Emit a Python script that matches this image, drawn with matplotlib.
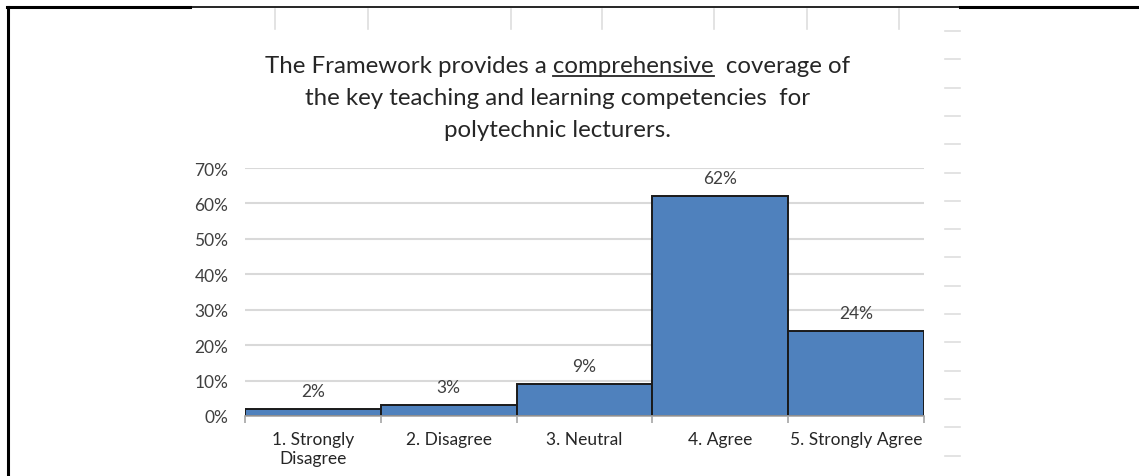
import matplotlib.pyplot as plt
from matplotlib.lines import Line2D

categories = ["1. Strongly\nDisagree", "2. Disagree", "3. Neutral", "4. Agree", "5. Strongly Agree"]
shares = [2, 3, 9, 62, 24]
y_ticks = [0, 10, 20, 30, 40, 50, 60, 70]
title_lines = ["The Framework provides a comprehensive  coverage of",
               "the key teaching and learning competencies  for",
               "polytechnic lecturers."]
underlined = "comprehensive"

W, H = 1139, 477
plt.rcParams['font.family'] = ['Lato', 'DejaVu Sans']
LABEL_SIZE = 12.5
TITLE_SIZE = 17.3

fig = plt.figure(figsize=(W / 100, H / 100), dpi=100)


def fx(x):
    return x / W


def fy(y):
    return 1 - y / H


ax = fig.add_axes([fx(245), fy(417), fx(924) - fx(245), fy(169) - fy(417)])

x = list(range(len(categories)))
ax.bar(x, shares, width=1.0, color='#4F81BD', edgecolor='#1a1a1a', linewidth=1.4, zorder=3)
for xi, v in zip(x, shares):
    ax.text(xi, v + 2.8, f"{v}%", ha='center', va='bottom', fontsize=LABEL_SIZE, color='#404040')

ax.set_xlim(-0.5, len(categories) - 0.5)
ax.set_ylim(0, 70)
ax.set_yticks(y_ticks)
ax.set_yticklabels([f"{t}%" for t in y_ticks], fontsize=LABEL_SIZE, color='#404040')
ax.tick_params(axis='y', length=0, pad=12)
ax.set_xticks(x)
ax.set_xticklabels(categories, fontsize=LABEL_SIZE, color='#262626', linespacing=1.2)
ax.set_xticks([i - 0.5 for i in range(len(categories) + 1)], minor=True)
ax.tick_params(axis='x', which='major', length=0, pad=11)
ax.tick_params(axis='x', which='minor', length=5, color='#a6a6a6', width=1.2)
ax.yaxis.grid(True, color='#d9d9d9', linewidth=1.5, zorder=0)
for s in ['left', 'right', 'top']:
    ax.spines[s].set_visible(False)
ax.spines['bottom'].set_color('#a6a6a6')
ax.spines['bottom'].set_linewidth(1.2)
ax.spines['bottom'].set_zorder(4)

# title, with one underlined word
title_cx = 558
title_baselines = [73, 105, 137]
for line, ty in zip(title_lines, title_baselines):
    fig.text(fx(title_cx), fy(ty), line, ha='center', va='baseline', fontsize=TITLE_SIZE, color='#262626')

fig.canvas.draw()
rend = fig.canvas.get_renderer()


def text_width(s):
    t = fig.text(0, 0, s, fontsize=TITLE_SIZE)
    w = t.get_window_extent(rend).width
    t.remove()
    return w


full_w = text_width(title_lines[0])
head = title_lines[0][:title_lines[0].index(underlined) + len(underlined)]
u_end = title_cx - full_w / 2 + text_width(head)
u_start = u_end - text_width(underlined)
fig.add_artist(Line2D([fx(u_start), fx(u_end)], [fy(76.5), fy(76.5)], transform=fig.transFigure,
                      color='#262626', linewidth=1.3))

# surrounding sheet borders
fig.add_artist(Line2D([fx(8), fx(8)], [fy(8), 0], transform=fig.transFigure, color='black', linewidth=2.2))
fig.add_artist(Line2D([fx(7), fx(190)], [fy(8), fy(8)], transform=fig.transFigure, color='black', linewidth=2.2))
fig.add_artist(Line2D([fx(190), fx(960)], [fy(7.5), fy(7.5)], transform=fig.transFigure, color='black', linewidth=1.2))
fig.add_artist(Line2D([fx(960), fx(1139)], [fy(8), fy(8)], transform=fig.transFigure, color='black', linewidth=2.2))

# faint cell gridline stubs
for cx in [275, 368, 511, 602, 714, 807, 899]:
    fig.add_artist(Line2D([fx(cx), fx(cx)], [fy(10), fy(30)], transform=fig.transFigure,
                          color='#dedede', linewidth=1.2))
for i in range(16):
    cy = 32 + i * 28.3
    fig.add_artist(Line2D([fx(945), fx(960)], [fy(cy), fy(cy)], transform=fig.transFigure,
                          color='#dedede', linewidth=1.2))

fig.savefig('out.png', dpi=100)
